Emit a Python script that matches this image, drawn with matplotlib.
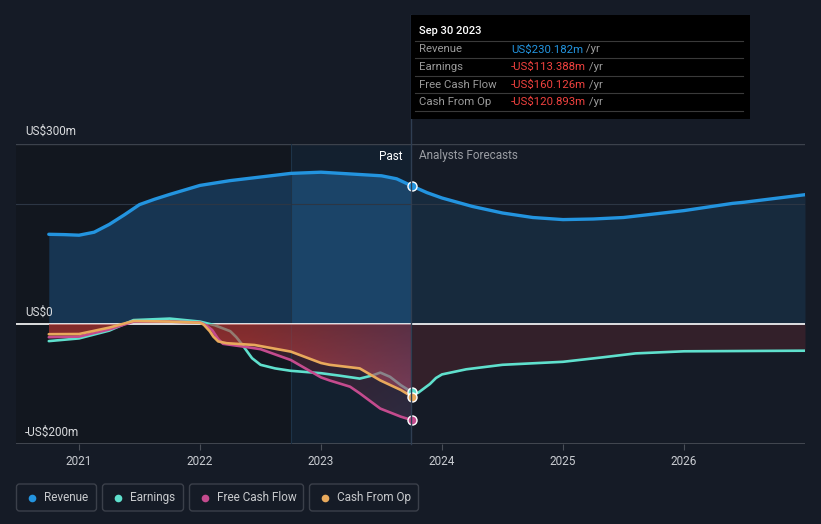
import numpy as np
import matplotlib
matplotlib.use("Agg")
import matplotlib.pyplot as plt
from matplotlib.patches import FancyBboxPatch, Rectangle

plt.rcParams['font.family'] = ['Roboto', 'DejaVu Sans']

# ---- data (US$m, x in fractional years) ----
rev_x = [2020.75, 2020.875, 2021.0, 2021.125, 2021.25, 2021.375, 2021.5, 2021.625, 2021.75,
         2022.0, 2022.25, 2022.5, 2022.75, 2023.0, 2023.25, 2023.5, 2023.625, 2023.75]
rev = [149.5, 149, 148, 153, 166, 182, 199, 208, 216,
       231, 239, 245, 251, 253, 250, 247, 242, 230.2]
rev_fc_x = [2023.75, 2023.875, 2024.0, 2024.25, 2024.5, 2024.75, 2025.0, 2025.25, 2025.5,
            2026.0, 2026.4, 2026.5, 2027.0]
rev_fc = [230.2, 219, 210, 196, 185, 177.5, 174, 175, 177.5,
          189, 201, 203, 215.5]

earn_x = [2020.75, 2021.0, 2021.25, 2021.45, 2021.75, 2022.0, 2022.12, 2022.25, 2022.3, 2022.34,
          2022.39, 2022.43, 2022.5, 2022.62, 2022.75, 2023.0, 2023.15, 2023.32, 2023.42, 2023.49,
          2023.57, 2023.66, 2023.75]
earn = [-28.5, -24, -11, 6.5, 9, 4, -2, -12, -22, -32,
        -46, -57, -68, -74, -78, -82, -86, -91, -86, -81,
        -88, -102, -113.4]
earn_fc_x = [2023.75, 2023.8, 2023.9, 2023.95, 2024.0, 2024.2, 2024.5, 2025.0, 2025.33, 2025.6,
             2026.0, 2026.5, 2027.0]
earn_fc = [-113.4, -115, -100, -90, -84, -75.5, -68, -63, -55.5, -49,
           -45.5, -45, -44.5]

fcf_x = [2020.75, 2021.0, 2021.25, 2021.45, 2021.75, 2022.0, 2022.05, 2022.1, 2022.15, 2022.19,
         2022.37, 2022.5, 2022.75, 2023.0, 2023.07, 2023.24, 2023.32, 2023.49, 2023.66, 2023.75]
fcf = [-22, -21, -9, 4, 4, 2.5, -2, -10, -25, -33,
       -38, -42, -60, -89, -94, -104.5, -115.5, -141, -154.5, -160.1]

cfo_x = [2020.75, 2021.0, 2021.25, 2021.45, 2021.75, 2022.0, 2022.03, 2022.08, 2022.11, 2022.15,
         2022.22, 2022.45, 2022.75, 2023.0, 2023.07, 2023.32, 2023.49, 2023.66, 2023.75]
cfo = [-17, -16.7, -6, 5, 4, 2, -1, -12, -21, -29,
       -32, -35, -46, -65, -68, -74, -94, -110, -120.9]

years = [2021, 2022, 2023, 2024, 2025, 2026]
now_x = 2023.75
hl_start = 2022.75

C_REV = '#2394df'
C_EARN = '#5fe0cd'
C_FCF = '#c44b8e'
C_CFO = '#e8a95c'
BG = '#151b26'

fig = plt.figure(figsize=(8.21, 5.24), dpi=100, facecolor=BG)
ax = fig.add_axes([16 / 821, 80 / 524, 789 / 821, 300 / 524])
ax.set_facecolor(BG)
x0, x1 = 2020.479, 2027.0
y0, y1 = -200, 300

# background bands
ax.axvspan(x0, hl_start, color='#12171f', zorder=0, lw=0)
ax.axvspan(hl_start, now_x, color='#13202f', zorder=0, lw=0)

# revenue fills
rx = np.array(rev_x)
ax.fill_between(rev_x, 0, rev, where=rx <= hl_start, color='#173552', lw=0, zorder=1)
ax.fill_between(rev_x, 0, rev, where=rx >= hl_start, color='#1b4468', lw=0, zorder=1)
ax.fill_between(rev_fc_x, 0, rev_fc, color='#172a3d', lw=0, zorder=1)

# negative fills
ax.fill_between(earn_fc_x, 0, earn_fc, color='#33202a', lw=0, zorder=1)

def gradient_fill(xs, ys, c_left, c_right, alpha, z, dark=0.35, start=0.35):
    poly = ax.fill_between(xs, 0, ys, facecolor='none', edgecolor='none')
    w, h = 200, 100
    u = np.linspace(0, 1, w)[None, :, None]
    v = np.linspace(0, 1, h)[:, None, None]
    cl = np.array(matplotlib.colors.to_rgb(c_left))[None, None, :]
    cr = np.array(matplotlib.colors.to_rgb(c_right))[None, None, :]
    t = np.clip((u - start) / (1 - start), 0, 1)
    rgb = cl * (1 - t) + cr * t
    rgb = rgb * (1 - dark * v)
    img = np.concatenate([rgb, np.full((h, w, 1), alpha)], axis=2)
    im = ax.imshow(img, extent=[min(xs), max(xs), 0, min(ys)], origin='upper',
                   aspect='auto', zorder=z, interpolation='bilinear')
    im.set_clip_path(poly.get_paths()[0], transform=ax.transData)

gradient_fill(fcf_x, fcf, '#4a1e2a', '#2e2b40', 1.0, 2, dark=0.2)

# grid lines
ax.axhline(300, color='#3c424c', lw=1, zorder=2.5)
ax.axhline(200, color='#2c3644', lw=0.8, zorder=2.5)
ax.axhline(-200, color='#4a4f58', lw=1.2, zorder=2.5)
ax.axhline(0, color='#ffffff', lw=1.2, zorder=2.8)
ax.axvline(hl_start, color='#1d3348', lw=0.8, zorder=2.6)

# earnings line (under the cash-from-op fill)
ax.plot(earn_x, earn, color=C_EARN, lw=1.9, zorder=3, solid_capstyle='round')
gradient_fill(cfo_x, cfo, '#ea4a42', '#a84c6c', 0.6, 4, dark=0.25, start=0.55)
ax.plot(earn_fc_x, earn_fc, color=C_EARN, lw=1.9, zorder=5)

ax.plot(fcf_x, fcf, color=C_FCF, lw=1.9, zorder=5, solid_capstyle='round')
ax.plot(cfo_x, cfo, color=C_CFO, lw=1.9, zorder=5, solid_capstyle='round')
ax.plot(rev_x, rev, color=C_REV, lw=2.4, zorder=5, solid_capstyle='round')
ax.plot(rev_fc_x, rev_fc, color=C_REV, lw=2.4, zorder=5, solid_capstyle='round')

# end markers
for yv, c in [(rev[-1], C_REV), (earn[-1], C_EARN), (cfo[-1], C_CFO), (fcf[-1], C_FCF)]:
    ax.plot([now_x], [yv], 'o', ms=6.5, mfc=c, mec='white', mew=1.0, zorder=7)

ax.set_xlim(x0, x1)
ax.set_ylim(y0, y1)
ax.set_xticks(years)
ax.set_xticklabels([str(y) for y in years], color='#c9ccd1', fontsize=8.5)
ax.tick_params(axis='x', length=4, color='#4a4f58', pad=4)
ax.set_yticks([])
for s in ax.spines.values():
    s.set_visible(False)

# overlay in pixel coordinates
ov = fig.add_axes([0, 0, 1, 1], facecolor='none')
ov.set_xlim(0, 821)
ov.set_ylim(524, 0)
ov.axis('off')

ov.plot([411, 411], [15, 444], color='#2f3e52', lw=1, zorder=1)

ov.text(25, 131, 'US$300m', color='#d9dbde', fontsize=8.5, va='center')
ov.text(25, 312, 'US$0', color='#d9dbde', fontsize=8.5, va='center')
ov.text(25, 432, '-US$200m', color='#d9dbde', fontsize=8.5, va='center')
ov.text(403, 156, 'Past', color='#ffffff', fontsize=8.5, ha='right', va='center')
ov.text(419, 156, 'Analysts Forecasts', color='#9a9da3', fontsize=8.5, ha='left', va='center')

# tooltip
ov.add_patch(Rectangle((411, 15), 339, 104, facecolor='#000000', edgecolor='none', zorder=3))
ov.text(419, 31, 'Sep 30 2023', color='#ffffff', fontsize=8, fontweight='medium', va='center', zorder=4)
for yy in [41, 58.3, 76, 93.3, 111]:
    ov.plot([415, 743], [yy, yy], color='#3a3a3a', lw=0.8, zorder=4)
rows = [('Revenue', 'US$230.182m', C_REV, 49.5),
        ('Earnings', '-US$113.388m', '#f0423f', 67),
        ('Free Cash Flow', '-US$160.126m', '#f0423f', 84.5),
        ('Cash From Op', '-US$120.893m', '#f0423f', 102)]
for lab, val, c, yy in rows:
    ov.text(419, yy, lab, color='#9a9a9a', fontsize=8.2, va='center', zorder=4)
    t = ov.text(511, yy, val, color=c, fontsize=8.2, va='center', zorder=4)
    ov.annotate(' /yr', xy=(1, 0.5), xycoords=t, va='center', ha='left',
                color='#9a9a9a', fontsize=8.2, zorder=4)

# legend
legend = [('Revenue', C_REV, 16, 81), ('Earnings', C_EARN, 102, 82),
          ('Free Cash Flow', C_FCF, 189, 115), ('Cash From Op', C_CFO, 309, 110)]
for lab, c, bx, bw in legend:
    ov.add_patch(FancyBboxPatch((bx + 0.5, 484), bw - 1, 27, boxstyle='round,pad=0,rounding_size=3',
                                facecolor='none', edgecolor='#3b404a', lw=1))
    ov.plot([bx + 16], [497.5], 'o', ms=5.5, color=c, mec='none')
    ov.text(bx + 28, 497.5, lab, color='#c8cacd', fontsize=8.5, va='center')

fig.savefig('out.png', dpi=100, facecolor=BG)
